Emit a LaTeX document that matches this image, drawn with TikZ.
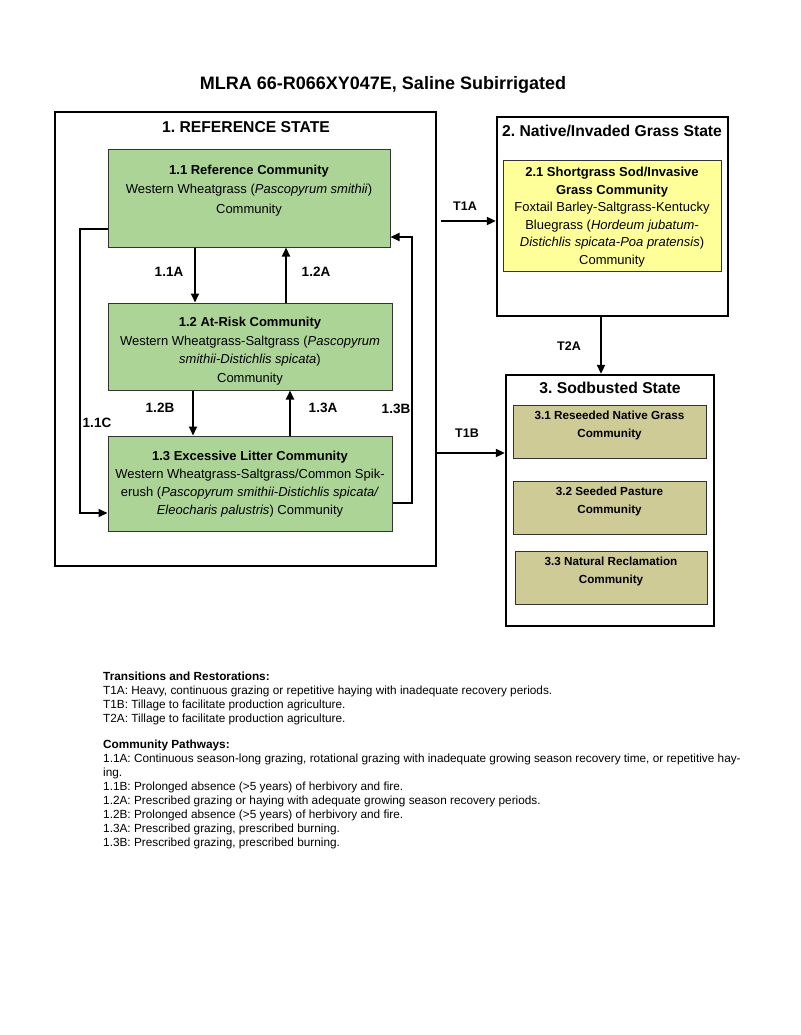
\documentclass[tikz,border=0pt]{standalone}
\usepackage{fontspec}
\setmainfont{Liberation Sans}
\usetikzlibrary{arrows.meta}
\definecolor{grn}{RGB}{172,212,150}
\definecolor{ylw}{RGB}{255,255,153}
\definecolor{khk}{RGB}{207,203,150}
\frenchspacing
\begin{document}
\begin{tikzpicture}[x=1pt,y=-1pt,
  state/.style={draw=black, line width=2.4pt, inner sep=0pt, fill=white},
  comm/.style={draw=black!80, line width=1pt, inner sep=0pt},
  boxtext/.style={anchor=north, align=center, inner sep=0pt},
  hdr/.style={inner sep=0pt, font=\bfseries\fontsize{15.7}{18}\selectfont},
  arr/.style={line width=2pt, -{Triangle[length=9pt,width=8pt]}},
  lbl/.style={inner sep=0pt, font=\bfseries\fontsize{13.5}{14}\selectfont},
  tlbl/.style={inner sep=0pt, font=\bfseries\fontsize{12.5}{14}\selectfont},
  legend/.style={anchor=north west, align=left, inner sep=0pt, font=\fontsize{11.8}{14}\selectfont}
]
\useasboundingbox (0,0) rectangle (800,1035);
\fill[white] (0,0) rectangle (800,1035);

\node[inner sep=0pt, font=\bfseries\fontsize{18}{20}\selectfont] (title) at (383,85) {MLRA 66-R066XY047E, Saline Subirrigated};

% State 1
\node[state, minimum width=381pt, minimum height=454pt] (s1) at (245.5,339) {};
\node[hdr] (h1) at (246,127) {1. REFERENCE STATE};

\node[comm, fill=grn, minimum width=282pt, minimum height=97pt] (b11) at (249,198.5) {};
\node[boxtext, font=\fontsize{13}{19.5}\selectfont] (t11) at ([yshift=-15.3pt]b11.north)
  {{\bfseries 1.1 Reference Community}\\Western Wheatgrass (\textit{Pascopyrum smithii})\\Community};

\node[comm, fill=grn, minimum width=284pt, minimum height=87pt] (b12) at (250,346.5) {};
\node[boxtext, font=\fontsize{13}{18.7}\selectfont] (t12) at ([yshift=-14.3pt]b12.north)
  {{\bfseries 1.2 At-Risk Community}\\Western Wheatgrass-Saltgrass (\textit{Pascopyrum}\\\textit{smithii-Distichlis spicata})\\Community};

\node[comm, fill=grn, minimum width=284pt, minimum height=95pt] (b13) at (250,483.5) {};
\node[boxtext, font=\fontsize{13}{18}\selectfont] (t13) at ([yshift=-15.3pt]b13.north)
  {{\bfseries 1.3 Excessive Litter Community}\\Western Wheatgrass-Saltgrass/Common Spik-\\erush (\textit{Pascopyrum smithii-Distichlis spicata/}\\\textit{Eleocharis palustris}) Community};

% State 2
\node[state, minimum width=231pt, minimum height=199pt] (s2) at (612.5,216.5) {};
\node[hdr] (h2) at (612,131) {2. Native/Invaded Grass State};
\node[comm, fill=ylw, minimum width=218pt, minimum height=110pt] (b21) at (612,216) {};
\node[boxtext, font=\fontsize{13}{17.6}\selectfont] (t21) at ([yshift=-6.3pt]b21.north)
  {{\bfseries 2.1 Shortgrass Sod/Invasive}\\{\bfseries Grass Community}\\Foxtail Barley-Saltgrass-Kentucky\\Bluegrass (\textit{Hordeum jubatum-}\\\textit{Distichlis spicata-Poa pratensis})\\Community};

% State 3
\node[state, minimum width=208pt, minimum height=251pt] (s3) at (610,500.5) {};
\node[hdr] (h3) at (610,388) {3. Sodbusted State};
\node[comm, fill=khk, minimum width=193pt, minimum height=53pt] (b31) at (609.5,431.5) {};
\node[boxtext, font=\bfseries\fontsize{11.7}{18}\selectfont] (t31) at ([yshift=-6.8pt]b31.north)
  {3.1 Reseeded Native Grass\\Community};
\node[comm, fill=khk, minimum width=193pt, minimum height=53pt] (b32) at (609.5,507.5) {};
\node[boxtext, font=\bfseries\fontsize{11.7}{18}\selectfont] (t32) at ([yshift=-6.8pt]b32.north)
  {3.2 Seeded Pasture\\Community};
\node[comm, fill=khk, minimum width=192pt, minimum height=53pt] (b33) at (611,577.5) {};
\node[boxtext, font=\bfseries\fontsize{11.7}{18}\selectfont] (t33) at ([yshift=-6.8pt]b33.north)
  {3.3 Natural Reclamation\\Community};

% Community pathways
\draw[arr] ([xshift=-54pt]b11.south) -- ([xshift=-54pt]b11.south |- b12.north);
\draw[arr] ([xshift=36pt]b12.north) -- ([xshift=36pt]b12.north |- b11.south);
\draw[arr] ([xshift=-57pt]b12.south) -- ([xshift=-57pt]b12.south |- b13.north);
\draw[arr] ([xshift=40pt]b13.north) -- ([xshift=40pt]b13.north |- b12.south);
\draw[arr] ([yshift=-30.5pt]b11.west) -- ++(-28,0) |- ([yshift=-29.5pt]b13.west);
\draw[arr] ([yshift=-19.5pt]b13.east) -- ++(19,0) |- ([yshift=-38.5pt]b11.east);

\node[lbl] (l11a) at (169,272) {1.1A};
\node[lbl] (l12a) at (316,272) {1.2A};
\node[lbl] (l12b) at (160,408) {1.2B};
\node[lbl] (l13a) at (323,408) {1.3A};
\node[lbl] (l11c) at (97,423) {1.1C};
\node[lbl] (l13b) at (396,409) {1.3B};

% Transitions
\draw[arr] ([shift={(4pt,118pt)}]s1.east) -- ([yshift=-4.5pt]s2.west);
\draw[arr] ([yshift=-114pt]s1.east) -- ([yshift=47.5pt]s3.west);
\draw[arr] ([xshift=-11.5pt]s2.south) -- ([xshift=-11.5pt]s2.south |- s3.north);
\node[tlbl] (lt1a) at (465,206) {T1A};
\node[tlbl] (lt1b) at (467,433) {T1B};
\node[tlbl] (lt2a) at (569,346) {T2A};

% Legend
\node[legend] (leg1) at (103,672)
  {{\bfseries Transitions and Restorations:}\\
   T1A: Heavy, continuous grazing or repetitive haying with inadequate recovery periods.\\
   T1B: Tillage to facilitate production agriculture.\\
   T2A: Tillage to facilitate production agriculture.};
\node[legend] (leg2) at (103,740)
  {{\bfseries Community Pathways:}\\
   1.1A: Continuous season-long grazing, rotational grazing with inadequate growing season recovery time, or repetitive hay-\\
   ing.\\
   1.1B: Prolonged absence (>5 years) of herbivory and fire.\\
   1.2A: Prescribed grazing or haying with adequate growing season recovery periods.\\
   1.2B: Prolonged absence (>5 years) of herbivory and fire.\\
   1.3A: Prescribed grazing, prescribed burning.\\
   1.3B: Prescribed grazing, prescribed burning.};
\end{tikzpicture}
\end{document}
